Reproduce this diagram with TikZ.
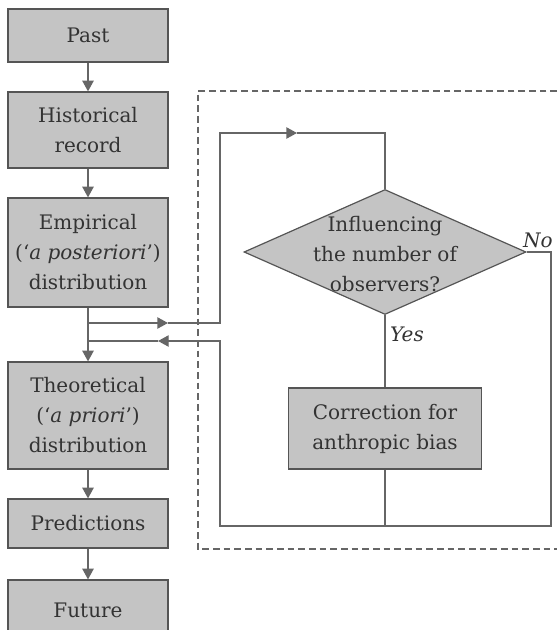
\documentclass[tikz,border=0pt]{standalone}
\usepackage{fontspec}
\setmainfont{DejaVu Serif}
\usetikzlibrary{arrows.meta,shapes.geometric}
\definecolor{boxfill}{HTML}{C4C4C4}
\definecolor{boxline}{HTML}{555555}
\definecolor{txt}{HTML}{333333}
\definecolor{connc}{HTML}{666666}
\begin{document}
\begin{tikzpicture}[x=0.75pt,y=-0.75pt,
 box/.style={draw=boxline, line width=0.9pt, fill=boxfill, text=txt, align=center, minimum width=120pt, inner sep=0pt, font=\fontsize{15}{22.5}\selectfont},
 conn/.style={draw=connc, line width=1pt},
 tip/.style={-{Triangle[length=8pt,width=8.5pt]}},
 lab/.style={text=txt, font=\fontsize{15}{18}\selectfont\itshape}]
\useasboundingbox (0,0) rectangle (557,630);
% dashed frame
\draw[draw=connc, line width=0.8pt, dash pattern=on 5pt off 3pt] (557,91) -- (198,91) -- (198,549) -- (557,549);
% left column
\node[box, minimum height=39.75pt] (past) at (88,35.5) {Past};
\node[box, minimum height=57pt] (hist) at (88,130) {Historical\\record};
\node[box, minimum height=81.75pt] (emp) at (88,252.5) {Empirical\\(‘\textit{a posteriori}’)\\distribution};
\node[box, minimum height=80.25pt] (theo) at (88,415.5) {Theoretical\\(‘\textit{a priori}’)\\distribution};
\node[box, minimum height=36.75pt] (pred) at (88,523.5) {Predictions};
\node[box, minimum height=45pt] (fut) at (88,610) {Future};
% right part
\node[diamond, draw=boxline, line width=0.9pt, fill=boxfill, minimum width=211.5pt, minimum height=93.75pt, inner sep=0pt] (dec) at (385,252) {};
\node[text=txt, align=center, font=\fontsize{15}{22.5}\selectfont] (dectext) at (385,254) {Influencing\\the number of\\observers?};
\node[box, minimum width=144.75pt, minimum height=60.75pt] (corr) at (385,428.5) {Correction for\\anthropic bias};
\node[lab] (no) at (538,240) {No};
\node[lab] (yes) at (407,334) {Yes};
% coordinates
\coordinate (bo) at (88,323);
\coordinate (ao) at (168,323);
\coordinate (lx1) at (220,323);
\coordinate (at) at (297,133);
\coordinate (rc) at (551,526);
\coordinate (lc) at (220,526);
\coordinate (lx2) at (220,341);
\coordinate (ai) at (158,341);
\coordinate (bi) at (88,341);
% connectors
\draw[conn,tip] (past) -- (hist);
\draw[conn,tip] (hist) -- (emp);
\draw[conn,tip] (emp) -- (theo);
\draw[conn,tip] (theo) -- (pred);
\draw[conn,tip] (pred) -- (fut);
\draw[conn,tip] (bo) -- (ao);
\draw[conn,tip] (ao) -- (lx1) |- (at);
\draw[conn] (at) -| (dec.north);
\draw[conn,tip] (dec.east) -| (rc) -- (lc) -- (lx2) -- (ai);
\draw[conn] (ai) -- (bi);
\draw[conn] (dec.south) -- (corr.north);
\draw[conn] (corr.south) -- (corr.south |- lc);
\end{tikzpicture}
\end{document}
